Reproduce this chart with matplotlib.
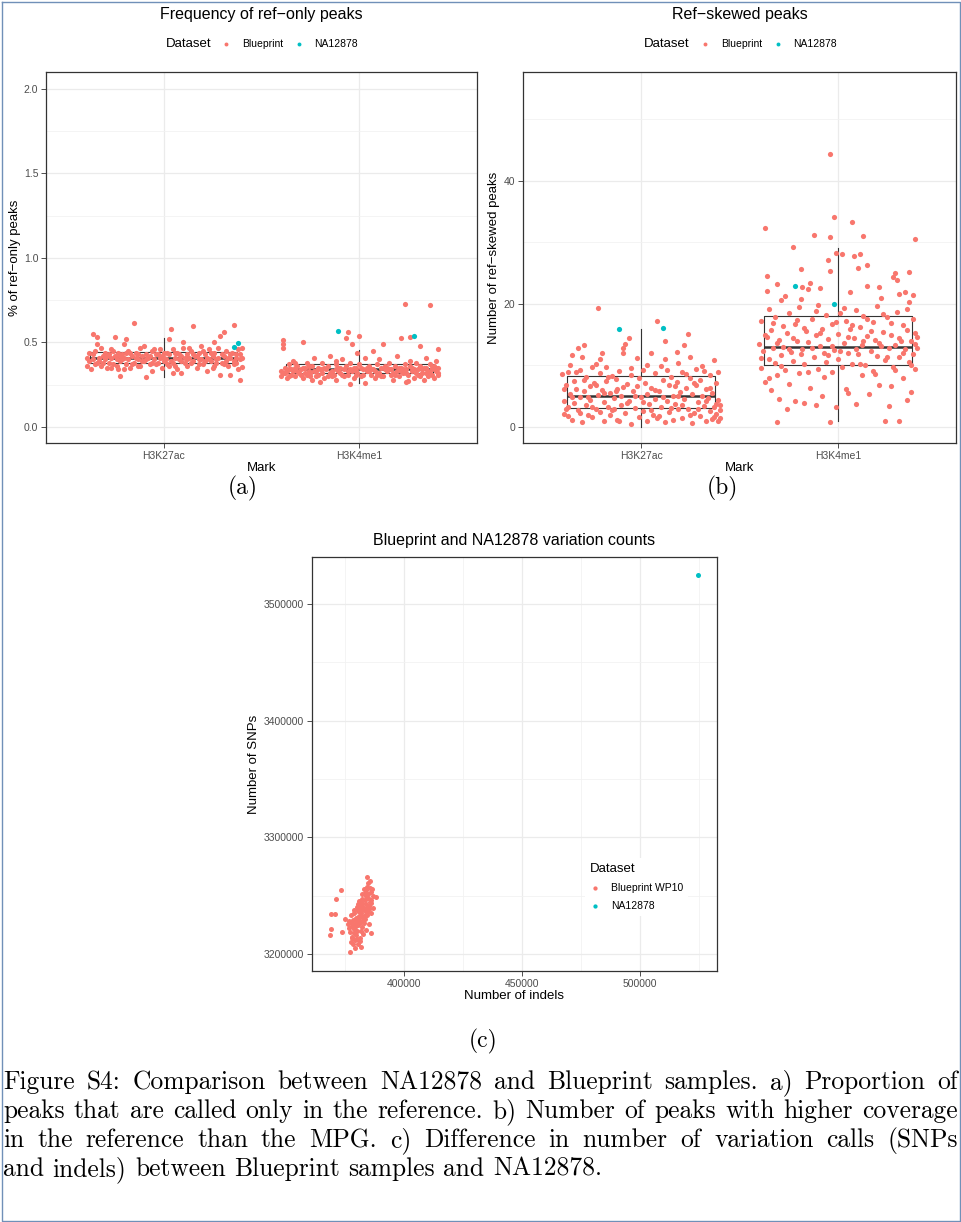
import matplotlib
matplotlib.use('Agg')
import matplotlib.pyplot as plt
from matplotlib.ticker import FixedLocator, FuncFormatter
from matplotlib.lines import Line2D

plt.rcParams['font.family'] = ['Liberation Sans', 'DejaVu Sans']

BP = '#F8766D'
NA = '#00BFC4'

marks = ['H3K27ac', 'H3K4me1']

# ---- panel (a): % of ref-only peaks, (jitter, value) per sample
a_k27_bp = [(-0.39,0.41),(-0.38,0.39),(-0.37,0.34),(-0.36,0.55),(-0.36,0.43),(-0.35,0.45),(-0.34,0.53),(-0.34,0.38),
    (-0.33,0.41),(-0.32,0.47),(-0.32,0.36),(-0.31,0.42),(-0.30,0.44),(-0.30,0.40),(-0.29,0.35),(-0.28,0.43),(-0.28,0.38),
    (-0.27,0.41),(-0.26,0.45),(-0.26,0.37),(-0.25,0.53),(-0.25,0.42),(-0.24,0.40),(-0.23,0.44),(-0.23,0.34),(-0.22,0.30),
    (-0.22,0.39),(-0.21,0.43),(-0.20,0.41),(-0.19,0.52),(-0.19,0.37),(-0.18,0.45),(-0.18,0.40),(-0.17,0.35),(-0.16,0.42),
    (-0.15,0.615),(-0.15,0.38),(-0.14,0.44),(-0.13,0.40),(-0.12,0.47),(-0.12,0.36),(-0.11,0.42),(-0.10,0.48),(-0.10,0.39),
    (-0.09,0.295),(-0.09,0.43),(-0.08,0.41),(-0.07,0.37),(-0.06,0.45),(-0.06,0.33),(-0.05,0.40),(-0.04,0.43),(-0.03,0.38),
    (-0.02,0.46),(-0.02,0.41),(-0.01,0.35),(0.00,0.44),(0.01,0.40),(0.02,0.37),(0.03,0.52),(0.03,0.43),(0.04,0.58),
    (0.04,0.39),(0.05,0.46),(0.06,0.41),(0.07,0.34),(0.07,0.44),(0.08,0.40),(0.09,0.32),(0.09,0.42),(0.10,0.47),(0.11,0.38),
    (0.12,0.43),(0.12,0.36),(0.13,0.41),(0.14,0.45),(0.15,0.60),(0.15,0.39),(0.16,0.42),(0.17,0.35),(0.18,0.44),(0.18,0.40),
    (0.19,0.48),(0.20,0.37),(0.21,0.43),(0.22,0.41),(0.22,0.33),(0.23,0.46),(0.24,0.39),(0.25,0.42),(0.26,0.36),(0.26,0.44),
    (0.27,0.40),(0.28,0.47),(0.29,0.54),(0.29,0.31),(0.30,0.38),(0.31,0.56),(0.31,0.42),(0.32,0.45),(0.33,0.36),(0.34,0.305),
    (0.34,0.41),(0.35,0.44),(0.36,0.605),(0.36,0.39),(0.37,0.43),(0.38,0.34),(0.38,0.46),(0.39,0.28),(0.39,0.40),(0.40,0.355),
    (0.40,0.47),(-0.38,0.44),(-0.33,0.39),(-0.29,0.42),(-0.24,0.36),(-0.21,0.40),(-0.17,0.44),(-0.14,0.41),(-0.11,0.39),
    (-0.07,0.42),(-0.04,0.37),(-0.01,0.42),(0.02,0.44),(0.05,0.38),(0.08,0.43),(0.11,0.41),(0.14,0.38),(0.17,0.42),(0.20,0.45),
    (0.23,0.40),(0.27,0.38),(0.30,0.43),(0.33,0.41),(0.36,0.37),(0.39,0.43),(-0.35,0.37),(-0.27,0.46),(-0.20,0.34),(-0.13,0.43),
    (-0.05,0.46),(0.00,0.39),(0.06,0.36),(0.13,0.47),(0.19,0.40),(0.25,0.35),(0.32,0.39),(0.37,0.41),
    (-0.39,0.36),(-0.36,0.40),(-0.31,0.38),(-0.27,0.35),(-0.22,0.42),(-0.19,0.44),(-0.16,0.37),(-0.13,0.36),(-0.09,0.40),
    (-0.06,0.38),(-0.03,0.43),(0.00,0.41),(0.03,0.36),(0.06,0.44),(0.09,0.39),(0.12,0.40),(0.15,0.43),(0.18,0.37),(0.21,0.39),
    (0.24,0.44),(0.28,0.41),(0.31,0.37),(0.34,0.43),(0.37,0.38),(0.40,0.41),(-0.34,0.49),(0.10,0.50),(-0.20,0.49),(0.26,0.50),
    (0.05,0.32)]
a_k4_bp = [(-0.40,0.33),(-0.40,0.30),(-0.39,0.515),(-0.39,0.49),(-0.39,0.47),(-0.38,0.35),(-0.38,0.32),(-0.37,0.29),
    (-0.36,0.37),(-0.36,0.34),(-0.35,0.31),(-0.34,0.39),(-0.34,0.33),(-0.33,0.30),(-0.32,0.36),(-0.31,0.32),(-0.30,0.34),
    (-0.29,0.50),(-0.29,0.29),(-0.28,0.35),(-0.27,0.31),(-0.27,0.38),(-0.26,0.33),(-0.25,0.30),(-0.24,0.36),(-0.24,0.28),
    (-0.23,0.41),(-0.22,0.33),(-0.21,0.31),(-0.21,0.35),(-0.20,0.265),(-0.19,0.38),(-0.19,0.32),(-0.18,0.29),(-0.17,0.34),
    (-0.16,0.36),(-0.16,0.30),(-0.15,0.42),(-0.14,0.33),(-0.13,0.31),(-0.12,0.37),(-0.12,0.28),(-0.11,0.35),(-0.10,0.32),
    (-0.09,0.40),(-0.08,0.34),(-0.08,0.30),(-0.07,0.525),(-0.07,0.36),(-0.06,0.56),(-0.06,0.31),(-0.05,0.255),(-0.05,0.38),
    (-0.04,0.49),(-0.04,0.33),(-0.03,0.29),(-0.02,0.35),(-0.01,0.44),(-0.01,0.32),(0.00,0.54),(0.00,0.37),(0.01,0.30),
    (0.02,0.34),(0.03,0.26),(0.03,0.41),(0.04,0.33),(0.05,0.36),(0.06,0.31),(0.07,0.45),(0.07,0.34),(0.08,0.29),(0.09,0.37),
    (0.10,0.32),(0.11,0.35),(0.12,0.49),(0.12,0.30),(0.13,0.36),(0.14,0.33),(0.15,0.38),(0.16,0.31),(0.16,0.34),(0.17,0.28),
    (0.18,0.36),(0.19,0.33),(0.20,0.30),(0.21,0.525),(0.21,0.35),(0.22,0.32),(0.23,0.727),(0.23,0.37),(0.24,0.265),
    (0.24,0.34),(0.25,0.27),(0.25,0.31),(0.26,0.53),(0.26,0.36),(0.27,0.33),(0.28,0.29),(0.29,0.38),(0.30,0.34),(0.30,0.31),
    (0.31,0.48),(0.31,0.36),(0.32,0.32),(0.33,0.35),(0.33,0.28),(0.34,0.41),(0.35,0.33),(0.35,0.30),(0.36,0.72),(0.36,0.37),
    (0.37,0.34),(0.37,0.31),(0.38,0.36),(0.38,0.29),(0.39,0.33),(0.39,0.39),(0.40,0.46),(0.40,0.32),(0.40,0.35),
    (-0.37,0.33),(-0.33,0.35),(-0.30,0.31),(-0.26,0.36),(-0.23,0.33),(-0.18,0.35),(-0.14,0.30),(-0.10,0.35),(-0.06,0.33),
    (-0.02,0.31),(0.01,0.35),(0.05,0.33),(0.09,0.31),(0.13,0.34),(0.17,0.32),(0.21,0.33),(0.27,0.35),(0.32,0.34),(0.36,0.32),
    (0.39,0.35),(-0.35,0.34),(-0.28,0.32),(-0.20,0.34),(-0.11,0.33),(-0.03,0.35),(0.06,0.34),(0.14,0.35),(0.22,0.34),
    (0.29,0.32),(0.34,0.35),
    (-0.39,0.32),(-0.36,0.30),(-0.32,0.33),(-0.29,0.35),(-0.25,0.32),(-0.22,0.30),(-0.19,0.34),(-0.15,0.32),(-0.12,0.34),
    (-0.09,0.31),(-0.05,0.34),(-0.02,0.33),(0.02,0.31),(0.04,0.35),(0.08,0.33),(0.11,0.30),(0.15,0.34),(0.18,0.31),(0.20,0.35),
    (0.24,0.32),(0.28,0.34),(0.31,0.30),(0.34,0.32),(0.37,0.35),(0.40,0.31),(-0.33,0.38),(0.10,0.40),(0.26,0.39),(-0.12,0.39),
    (0.19,0.42)]
a_k27_na = [(0.36,0.473),(0.38,0.497)]
a_k4_na = [(-0.11,0.568),(0.28,0.538)]
# box stats: q1, median, q3, lower whisker, upper whisker
a_q1 = [0.379, 0.320]
a_med = [0.408, 0.343]
a_q3 = [0.444, 0.373]
a_lo = [0.296, 0.260]
a_hi = [0.527, 0.456]

# ---- panel (b): number of ref-skewed peaks
b_k27_bp = [(-0.40,8.6),(-0.39,4.3),(-0.39,2.1),(-0.38,6.9),(-0.37,9.0),(-0.37,3.3),(-0.36,10.1),(-0.36,5.4),(-0.35,11.7),
    (-0.35,1.2),(-0.34,7.5),(-0.34,3.9),(-0.33,6.1),(-0.32,12.8),(-0.32,2.7),(-0.31,9.3),(-0.31,4.8),(-0.30,11.4),(-0.30,0.8),
    (-0.29,13.3),(-0.29,5.9),(-0.28,3.5),(-0.28,8.1),(-0.27,2.0),(-0.26,6.6),(-0.26,4.4),(-0.25,9.8),(-0.25,1.6),(-0.24,7.1),
    (-0.23,10.2),(-0.23,3.0),(-0.22,19.3),(-0.22,5.2),(-0.21,8.7),(-0.21,2.4),(-0.20,6.0),(-0.19,4.1),(-0.19,0.9),(-0.18,9.7),
    (-0.18,7.4),(-0.17,3.2),(-0.16,5.6),(-0.16,1.9),(-0.15,8.3),(-0.14,4.7),(-0.14,2.9),(-0.13,7.8),(-0.12,6.2),(-0.12,1.2),
    (-0.11,9.1),(-0.10,3.6),(-0.10,5.0),(-0.09,12.8),(-0.09,12.0),(-0.08,13.5),(-0.08,2.2),(-0.07,7.0),(-0.06,14.5),(-0.06,4.3),
    (-0.05,0.5),(-0.05,8.5),(-0.04,5.8),(-0.03,3.1),(-0.02,11.2),(-0.02,6.7),(-0.01,1.7),(0.00,4.9),(0.01,9.2),(0.01,2.6),
    (0.02,7.2),(0.03,5.3),(0.03,0.9),(0.04,3.8),(0.05,12.0),(0.05,6.4),(0.06,2.0),(0.07,8.8),(0.07,4.6),(0.08,17.2),(0.08,1.4),
    (0.09,5.9),(0.10,9.9),(0.10,3.3),(0.11,7.6),(0.12,11.1),(0.12,0.8),(0.13,4.2),(0.14,6.8),(0.14,2.5),(0.15,8.2),(0.16,5.1),
    (0.16,1.1),(0.17,3.7),(0.18,12.2),(0.18,7.3),(0.19,10.4),(0.19,2.9),(0.20,5.7),(0.21,9.0),(0.21,1.5),(0.22,13.3),(0.22,4.5),
    (0.23,6.3),(0.24,15.1),(0.24,3.0),(0.25,11.4),(0.25,8.0),(0.26,0.6),(0.26,5.4),(0.27,2.3),(0.28,9.5),(0.28,6.9),(0.29,4.0),
    (0.30,1.8),(0.30,7.7),(0.31,5.0),(0.32,3.4),(0.32,9.1),(0.33,0.9),(0.33,6.1),(0.34,4.7),(0.35,2.6),(0.35,8.4),(0.36,5.6),
    (0.36,1.3),(0.37,10.9),(0.37,3.2),(0.38,7.1),(0.38,2.1),(0.39,4.4),(0.39,1.0),(0.40,3.5),(0.40,2.8),
    (-0.39,6.2),(-0.37,1.8),(-0.35,4.9),(-0.33,8.9),(-0.31,2.3),(-0.29,7.7),(-0.27,4.8),(-0.25,3.2),(-0.23,6.8),(-0.21,11.0),
    (-0.19,5.6),(-0.17,8.1),(-0.15,2.7),(-0.13,5.9),(-0.11,0.9),(-0.09,6.5),(-0.07,3.9),(-0.05,9.6),(-0.03,5.1),(-0.01,7.9),
    (0.01,4.0),(0.03,10.0),(0.05,2.8),(0.07,6.0),(0.09,1.8),(0.11,4.8),(0.13,9.3),(0.15,3.1),(0.17,6.6),(0.19,5.0),(0.21,3.6),
    (0.23,8.6),(0.25,1.9),(0.27,7.1),(0.29,2.9),(0.31,9.9),(0.33,4.2),(0.35,6.4),(0.37,1.7),(0.39,8.9),(0.40,1.5),(0.38,3.8),
    (-0.38,3.0),(0.12,14.0),(-0.20,12.0)]
b_k4_bp = [(-0.40,13.5),(-0.39,9.6),(-0.39,17.2),(-0.38,12.4),(-0.37,32.4),(-0.37,7.3),(-0.36,22.1),(-0.36,14.6),(-0.35,11.0),
    (-0.35,19.1),(-0.34,15.8),(-0.34,6.0),(-0.33,12.9),(-0.32,10.4),(-0.32,17.9),(-0.31,23.3),(-0.31,8.4),(-0.31,0.8),
    (-0.30,14.1),(-0.30,4.5),(-0.29,20.6),(-0.29,11.7),(-0.28,16.4),(-0.28,13.0),(-0.27,9.2),(-0.26,2.9),(-0.26,15.2),
    (-0.25,18.6),(-0.25,7.0),(-0.24,12.2),(-0.23,29.3),(-0.23,10.8),(-0.22,16.8),(-0.22,4.2),(-0.21,14.0),(-0.20,8.8),
    (-0.20,19.5),(-0.19,25.7),(-0.19,20.8),(-0.18,22.8),(-0.18,12.6),(-0.17,10.2),(-0.17,3.9),(-0.16,15.6),(-0.15,22.4),
    (-0.15,13.8),(-0.14,23.4),(-0.14,6.4),(-0.13,17.6),(-0.12,31.2),(-0.12,11.3),(-0.11,14.9),(-0.10,9.4),(-0.10,19.9),
    (-0.09,22.6),(-0.09,13.2),(-0.08,16.0),(-0.08,5.1),(-0.07,12.0),(-0.06,18.2),(-0.06,10.6),(-0.05,27.2),(-0.05,14.3),
    (-0.04,44.4),(-0.04,30.9),(-0.04,25.4),(-0.04,0.8),(-0.03,8.9),(-0.03,16.7),(-0.02,34.2),(-0.02,12.5),(-0.01,28.3),
    (-0.01,3.2),(0.00,15.1),(0.00,11.1),(0.01,18.5),(0.02,28.1),(0.02,9.7),(0.03,13.6),(0.04,17.3),(0.04,6.2),(0.05,12.1),
    (0.06,22.0),(0.06,15.9),(0.07,33.3),(0.07,10.3),(0.08,27.8),(0.08,14.4),(0.09,3.7),(0.09,19.0),(0.10,25.9),(0.10,11.9),
    (0.11,28.1),(0.11,16.3),(0.12,8.5),(0.12,13.4),(0.13,31.1),(0.13,18.0),(0.14,10.0),(0.15,26.3),(0.15,22.9),(0.15,14.8),
    (0.16,5.4),(0.17,12.3),(0.18,17.0),(0.18,9.1),(0.19,14.2),(0.20,19.7),(0.20,11.6),(0.21,22.8),(0.21,6.8),(0.22,21.0),
    (0.22,13.1),(0.23,15.5),(0.24,0.9),(0.24,10.9),(0.25,17.8),(0.26,12.8),(0.26,3.4),(0.27,15.0),(0.28,24.4),(0.28,9.8),
    (0.29,25.0),(0.29,13.3),(0.30,23.9),(0.30,18.7),(0.31,21.6),(0.31,0.9),(0.31,11.4),(0.32,14.0),(0.33,7.9),(0.33,16.6),
    (0.34,22.0),(0.34,12.7),(0.35,19.2),(0.35,4.4),(0.36,25.2),(0.36,20.3),(0.36,10.6),(0.37,13.9),(0.37,5.7),(0.38,17.5),
    (0.38,11.8),(0.39,30.6),(0.39,15.3),(0.39,9.5),(0.40,12.9),(0.40,14.7),
    (-0.39,11.2),(-0.37,15.0),(-0.35,8.0),(-0.33,16.9),(-0.31,13.6),(-0.29,9.9),(-0.27,21.3),(-0.25,12.7),(-0.23,14.4),
    (-0.21,17.4),(-0.19,11.8),(-0.17,16.1),(-0.15,9.0),(-0.13,12.9),(-0.11,18.9),(-0.09,15.3),(-0.07,8.2),(-0.05,11.7),
    (-0.03,13.1),(-0.01,17.0),(0.01,12.4),(0.03,19.3),(0.05,14.6),(0.07,16.5),(0.09,12.6),(0.11,10.2),(0.13,14.0),(0.15,17.5),
    (0.17,15.6),(0.19,8.6),(0.21,13.7),(0.23,18.4),(0.25,11.3),(0.27,16.9),(0.29,9.3),(0.31,14.5),(0.33,12.0),(0.35,15.7),
    (0.37,10.1),(0.39,13.5),(-0.36,24.5),(0.05,5.5),(-0.11,3.5),(0.27,6.6),(0.38,21.5)]
b_k27_na = [(-0.11,15.9),(0.11,16.1)]
b_k4_na = [(-0.22,22.9),(-0.02,20.0)]
b_q1 = [3.1, 10.1]
b_med = [5.0, 13.0]
b_q3 = [8.3, 18.0]
b_lo = [0.0, 1.0]
b_hi = [15.9, 29.1]

# ---- panel (c): variation counts (indels, SNPs)
c_bp = [(384300,3266000),(373300,3254800),(371200,3247100),(369100,3234300),(370800,3234300),(369100,3221400),
    (368600,3216300),(373700,3218900),(386000,3218000),(377100,3201700),(381800,3206000),(388100,3248800),(375000,3230000),
    (377500,3210500),(378300,3208200),(379200,3212000),(380600,3209000),(378000,3215000),(379800,3216500),(381200,3214000),
    (377200,3219000),(378600,3221000),(380100,3220000),(381700,3219500),(382600,3217000),(377800,3224000),(379100,3226000),
    (380500,3225000),(382000,3223500),(383000,3226500),(378400,3229000),(379700,3231000),(381000,3229500),(382300,3231500),
    (383600,3230000),(384500,3233000),(379000,3235000),(380300,3236500),(381600,3235000),(382900,3237500),(384100,3236000),
    (385300,3238500),(380000,3240000),(381300,3241500),(382500,3240500),(383800,3242500),(385000,3241000),(386200,3243500),
    (381000,3245500),(382300,3247000),(383600,3246000),(384800,3248000),(386000,3246500),(382000,3251000),(383300,3252500),
    (384600,3251500),(385800,3253500),(383000,3256000),(384300,3257500),(385500,3256500),(384800,3261000),(385600,3262500),
    (376800,3228000),(377600,3233500),(378800,3238000),(376500,3222500),(380800,3232800),(382800,3228000),(381400,3226800),
    (379400,3222800),(380200,3213200),(378900,3217800),(383300,3233800),(384300,3239800),(385700,3244800),(386800,3250000),
    (387000,3239500),(385900,3235000),(382200,3243800),(380700,3238700),(383900,3249600),(379900,3228300),(378100,3226500),
    (381900,3238000),(379300,3205500),(381300,3211200),(377900,3213500),(376400,3225500),(383700,3220500),(385200,3225500),
    (384000,3254500),(386500,3256000),(380600,3243000)]
c_na = [(524600, 3524850)]

W, H = 962, 1222
fig = plt.figure(figsize=(W / 100, H / 100), dpi=100)


def fx(px):
    return px / W


def fy(py):
    return 1 - py / H


def style(ax):
    for s in ax.spines.values():
        s.set_color('#333333')
        s.set_linewidth(0.9)
    ax.tick_params(length=3.5, width=0.6, color='#333333', labelcolor='#4D4D4D', labelsize=7.5, pad=2)
    ax.tick_params(which='minor', length=0)
    ax.grid(True, which='major', color='#EBEBEB', lw=0.9)
    ax.grid(True, which='minor', color='#F2F2F2', lw=0.6)
    ax.set_axisbelow(True)


def jitter_plot(ax, groups_bp, groups_na, q1, med, q3, lo, hi):
    stats = [dict(q1=q1[i], med=med[i], q3=q3[i], whislo=lo[i], whishi=hi[i], fliers=[]) for i in range(2)]
    ax.bxp(stats, positions=[1, 2], widths=0.75, showfliers=False, showcaps=False,
           boxprops=dict(color='#333333', lw=0.8), whiskerprops=dict(color='#333333', lw=0.8),
           medianprops=dict(color='#333333', lw=1.8))
    for i, g in enumerate(groups_bp):
        sc_bp = ax.scatter([i + 1 + d for d, v in g], [v for d, v in g], s=14, c=BP, linewidths=0, zorder=3)
    for i, g in enumerate(groups_na):
        sc_na = ax.scatter([i + 1 + d for d, v in g], [v for d, v in g], s=14, c=NA, linewidths=0, zorder=3)
    ax.set_xlim(0.4, 2.6)
    ax.set_xticks([1, 2])
    ax.set_xticklabels(marks)
    return sc_bp, sc_na


def top_legend(ax, handles, title_x, handle_x):
    fig.text(fx(title_x), fy(44), 'Dataset', fontsize=9.5, va='center', ha='left')
    ax.legend(handles, ['Blueprint', 'NA12878'], ncol=2, loc='center left',
              bbox_to_anchor=(fx(handle_x), fy(44)), bbox_transform=fig.transFigure,
              frameon=False, handletextpad=1.0, columnspacing=1.0, handlelength=1.0,
              markerscale=0.75, fontsize=7.5, borderpad=0, borderaxespad=0)


# ---------- (a)
ax_a = fig.add_axes([fx(46), fy(443), fx(477) - fx(46), fy(72) - fy(443)])
style(ax_a)
h = jitter_plot(ax_a, [a_k27_bp, a_k4_bp], [a_k27_na, a_k4_na], a_q1, a_med, a_q3, a_lo, a_hi)
ax_a.set_ylim(-0.095, 2.1)
ax_a.set_yticks([0, 0.5, 1.0, 1.5, 2.0])
ax_a.yaxis.set_major_formatter(FuncFormatter(lambda v, _: f'{v:.1f}'))
ax_a.yaxis.set_minor_locator(FixedLocator([0.25, 0.75, 1.25, 1.75]))
ax_a.set_ylabel('% of ref\u2212only peaks', fontsize=9.5)
ax_a.set_xlabel('Mark', fontsize=9.5)
ax_a.yaxis.set_label_coords(-0.058, 0.5)
ax_a.xaxis.set_label_coords(0.5, -0.052)
fig.text(fx(261.5), fy(15), 'Frequency of ref\u2212only peaks', fontsize=11.5, ha='center', va='center')
top_legend(ax_a, h, 166, 221)

# ---------- (b)
ax_b = fig.add_axes([fx(523), fy(443), fx(956) - fx(523), fy(72) - fy(443)])
style(ax_b)
h = jitter_plot(ax_b, [b_k27_bp, b_k4_bp], [b_k27_na, b_k4_na], b_q1, b_med, b_q3, b_lo, b_hi)
ax_b.set_ylim(-2.6, 57.7)
ax_b.set_yticks([0, 20, 40])
ax_b.yaxis.set_minor_locator(FixedLocator([10, 30, 50]))
ax_b.set_ylabel('Number of ref\u2212skewed peaks', fontsize=9.5)
ax_b.set_xlabel('Mark', fontsize=9.5)
ax_b.yaxis.set_label_coords(-0.053, 0.5)
ax_b.xaxis.set_label_coords(0.5, -0.052)
fig.text(fx(739.5), fy(15), 'Ref\u2212skewed peaks', fontsize=11.5, ha='center', va='center')
top_legend(ax_b, h, 644, 700)

# ---------- (c)
ax_c = fig.add_axes([fx(312), fy(971), fx(717) - fx(312), fy(557) - fy(971)])
style(ax_c)
s1 = ax_c.scatter([p[0] for p in c_bp], [p[1] for p in c_bp], s=13, c=BP, linewidths=0, zorder=3)
s2 = ax_c.scatter([p[0] for p in c_na], [p[1] for p in c_na], s=13, c=NA, linewidths=0, zorder=3)
ax_c.set_xlim(361000, 532600)
ax_c.set_ylim(3185430, 3540270)
ax_c.set_xticks([400000, 450000, 500000])
ax_c.set_yticks([3200000, 3300000, 3400000, 3500000])
ax_c.xaxis.set_minor_locator(FixedLocator([375000, 425000, 475000, 525000]))
ax_c.yaxis.set_minor_locator(FixedLocator([3250000, 3350000, 3450000]))
fmt = FuncFormatter(lambda v, _: f'{v:.0f}')
ax_c.xaxis.set_major_formatter(fmt)
ax_c.yaxis.set_major_formatter(fmt)
ax_c.set_xlabel('Number of indels', fontsize=9.5)
ax_c.set_ylabel('Number of SNPs', fontsize=9.5)
ax_c.yaxis.set_label_coords(-0.128, 0.5)
ax_c.xaxis.set_label_coords(0.5, -0.046)
fig.text(fx(514.5), fy(541), 'Blueprint and NA12878 variation counts', fontsize=11.5, ha='center', va='center')
leg = ax_c.legend([s1, s2], ['Blueprint WP10', 'NA12878'], title='Dataset', loc='upper left',
                  bbox_to_anchor=(fx(585), fy(858)), bbox_transform=fig.transFigure,
                  fontsize=7.5, title_fontsize=9.5, alignment='left', handlelength=1.0,
                  handletextpad=1.0, labelspacing=0.75, borderpad=0.5, borderaxespad=0,
                  markerscale=0.85, fancybox=False, framealpha=1, edgecolor='none', facecolor='white')

# ---------- sub-captions and figure caption
lines = ['Figure S4: Comparison between NA12878 and Blueprint samples. a) Proportion of',
         'peaks that are called only in the reference. b) Number of peaks with higher coverage',
         'in the reference than the MPG. c) Difference in number of variation calls (SNPs',
         'and indels) between Blueprint samples and NA12878.']
base_y = [1089, 1118, 1147, 1176]
x0, x1 = 3, 958
renderer = fig.canvas.get_renderer()

# size the caption font so the longest justified line fills the text width
probe = [fig.text(0, 0, ln, family='cmr10', fontsize=10) for ln in lines[:3]]
longest = max(t.get_window_extent(renderer).width for t in probe)
for t in probe:
    t.remove()
cap_size = 10 * (x1 - x0) / longest * 0.99
cap_font = dict(family='cmr10', fontsize=cap_size)
sub_font = dict(family='cmr10', fontsize=cap_size * 0.92)

fig.text(fx(243), fy(494), '(a)', ha='center', va='baseline', **sub_font)
fig.text(fx(722), fy(494), '(b)', ha='center', va='baseline', **sub_font)
fig.text(fx(483), fy(1047), '(c)', ha='center', va='baseline', **sub_font)

probe = [fig.text(0, 0, s, **cap_font) for s in ('a a', 'aa')]
space_w = probe[0].get_window_extent(renderer).width - probe[1].get_window_extent(renderer).width
for t in probe:
    t.remove()
for k, (line, by) in enumerate(zip(lines, base_y)):
    words = line.split(' ')
    texts = [fig.text(0, fy(by), w, ha='left', va='baseline', **cap_font) for w in words]
    widths = [t.get_window_extent(renderer).width for t in texts]
    if k < len(lines) - 1:
        gap = (x1 - x0 - sum(widths)) / (len(words) - 1)
    else:
        gap = space_w
    x = x0
    for t, w in zip(texts, widths):
        t.set_x(fx(x))
        x += w + gap

# page frame
frame = Line2D([fx(1.5), fx(1.5), fx(960.5), fx(960.5), fx(1.5)],
               [fy(1.5), fy(1220.5), fy(1220.5), fy(1.5), fy(1.5)],
               transform=fig.transFigure, color='#7090B8', lw=1.0)
fig.add_artist(frame)

fig.savefig('out.png', dpi=100)
